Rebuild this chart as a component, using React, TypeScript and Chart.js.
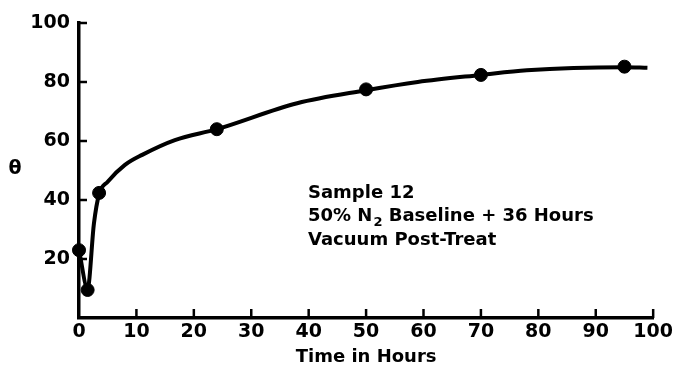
import React, { useEffect, useRef } from "react";
import { Chart, registerables } from "chart.js";

Chart.register(...registerables);

// ---- data ----
const xTickValues = [0, 10, 20, 30, 40, 50, 60, 70, 80, 90, 100];
const yTickValues = [20, 40, 60, 80, 100];

// measured samples
const sampleHours = [0, 1.5, 3.5, 24, 50, 70, 95];
const sampleTheta = [23, 9.5, 42.4, 64, 77.5, 82.4, 85.2];

// hand-drawn fitted curve, read along its path
const curveHours = [0, 1.5, 2.6, 3.5, 5, 8, 11, 16.7, 24, 38, 50, 59, 70, 78, 95, 99];
const curveTheta = [23, 10, 32, 42, 46.2, 51.9, 55.3, 60.3, 64, 72.8, 77.2, 80, 82.4, 84, 85, 84.8];

const yAxisTitle = "θ";
const xAxisTitle = "Time in Hours";
const noteLine1 = "Sample 12";
const noteLine2a = "50% N";
const noteLine2sub = "2";
const noteLine2b = " Baseline + 36 Hours";
const noteLine3 = "Vacuum Post-Treat";

const FAMILY = '"DejaVu Sans", "Liberation Sans", sans-serif';

export default function App() {
  const ref = useRef<HTMLCanvasElement>(null);

  useEffect(() => {
    const canvas = ref.current;
    if (!canvas) return;

    const decor = {
      id: "decor",
      beforeDatasetsDraw(chart: any) {
        const ctx = chart.ctx;
        const xs = chart.scales.x;
        const ys = chart.scales.y;
        ctx.save();
        ctx.strokeStyle = "#000";
        ctx.lineWidth = 2.5;
        ctx.lineCap = "butt";
        xTickValues.forEach((v) => {
          if (v === 0) return;
          const px = xs.getPixelForValue(v);
          ctx.beginPath();
          ctx.moveTo(px, ys.bottom);
          ctx.lineTo(px, ys.bottom - 9);
          ctx.stroke();
        });
        yTickValues.forEach((v) => {
          const py = ys.getPixelForValue(v);
          ctx.beginPath();
          ctx.moveTo(xs.left, py);
          ctx.lineTo(xs.left + 8, py);
          ctx.stroke();
        });
        ctx.restore();
      },
      afterDraw(chart: any) {
        const ctx = chart.ctx;
        const xs = chart.scales.x;
        ctx.save();
        ctx.fillStyle = "#000";
        // y axis title
        ctx.font = `bold 19px ${FAMILY}`;
        ctx.textAlign = "center";
        ctx.textBaseline = "middle";
        ctx.fillText(yAxisTitle, 15, 169);
        // x axis title
        ctx.font = `bold 18px ${FAMILY}`;
        ctx.textBaseline = "alphabetic";
        ctx.fillText(xAxisTitle, (xs.left + xs.right) / 2, 362);
        // annotation
        ctx.textAlign = "left";
        const x0 = 308;
        ctx.font = `bold 18px ${FAMILY}`;
        ctx.fillText(noteLine1, x0, 198);
        ctx.fillText(noteLine2a, x0, 221);
        let cx = x0 + ctx.measureText(noteLine2a).width + 1;
        ctx.font = `bold 13px ${FAMILY}`;
        ctx.fillText(noteLine2sub, cx, 226);
        cx += ctx.measureText(noteLine2sub).width;
        ctx.font = `bold 18px ${FAMILY}`;
        ctx.fillText(noteLine2b, cx, 221);
        ctx.fillText(noteLine3, x0, 245);
        ctx.restore();
      },
    };

    const tickFont = { family: FAMILY, size: 19, weight: "bold" as const };

    const chart = new Chart(canvas, {
      type: "scatter",
      data: {
        datasets: [
          {
            label: "curve",
            data: curveHours.map((h, i) => ({ x: h, y: curveTheta[i] })),
            showLine: true,
            borderColor: "#000",
            borderWidth: 4,
            pointRadius: 0,
            cubicInterpolationMode: "monotone",
            clip: false as any,
          },
          {
            label: "samples",
            data: sampleHours.map((h, i) => ({ x: h, y: sampleTheta[i] })),
            showLine: false,
            backgroundColor: "#000",
            borderColor: "#000",
            borderWidth: 1,
            pointRadius: 6.5,
            clip: false as any,
          },
        ],
      },
      options: {
        responsive: false,
        animation: false,
        events: [],
        layout: { padding: { left: 0, top: 23, right: 21, bottom: 0 } },
        plugins: {
          legend: { display: false },
          tooltip: { enabled: false },
        },
        scales: {
          x: {
            type: "linear",
            min: 0,
            max: 100,
            afterBuildTicks: (s: any) => {
              s.ticks = xTickValues.map((v) => ({ value: v }));
            },
            afterFit: (s: any) => {
              s.height = 47;
            },
            ticks: {
              font: tickFont,
              color: "#000",
              padding: 3,
              maxRotation: 0,
              autoSkip: false,
            },
            grid: { display: true, drawOnChartArea: false, drawTicks: false },
            border: { display: true, color: "#000", width: 3.5 },
          },
          y: {
            type: "linear",
            min: 0,
            max: 100,
            afterBuildTicks: (s: any) => {
              s.ticks = yTickValues.map((v) => ({ value: v }));
            },
            afterFit: (s: any) => {
              s.width = 79;
            },
            ticks: {
              font: tickFont,
              color: "#000",
              padding: 9,
              autoSkip: false,
            },
            grid: { display: true, drawOnChartArea: false, drawTicks: false },
            border: { display: true, color: "#000", width: 3.5 },
          },
        },
      },
      plugins: [decor],
    });

    return () => chart.destroy();
  }, []);

  return (
    <div style={{ position: "absolute", left: 0, top: 0, width: 676, height: 365, background: "#fff" }}>
      <canvas ref={ref} width={676} height={365} style={{ display: "block" }} />
    </div>
  );
}
